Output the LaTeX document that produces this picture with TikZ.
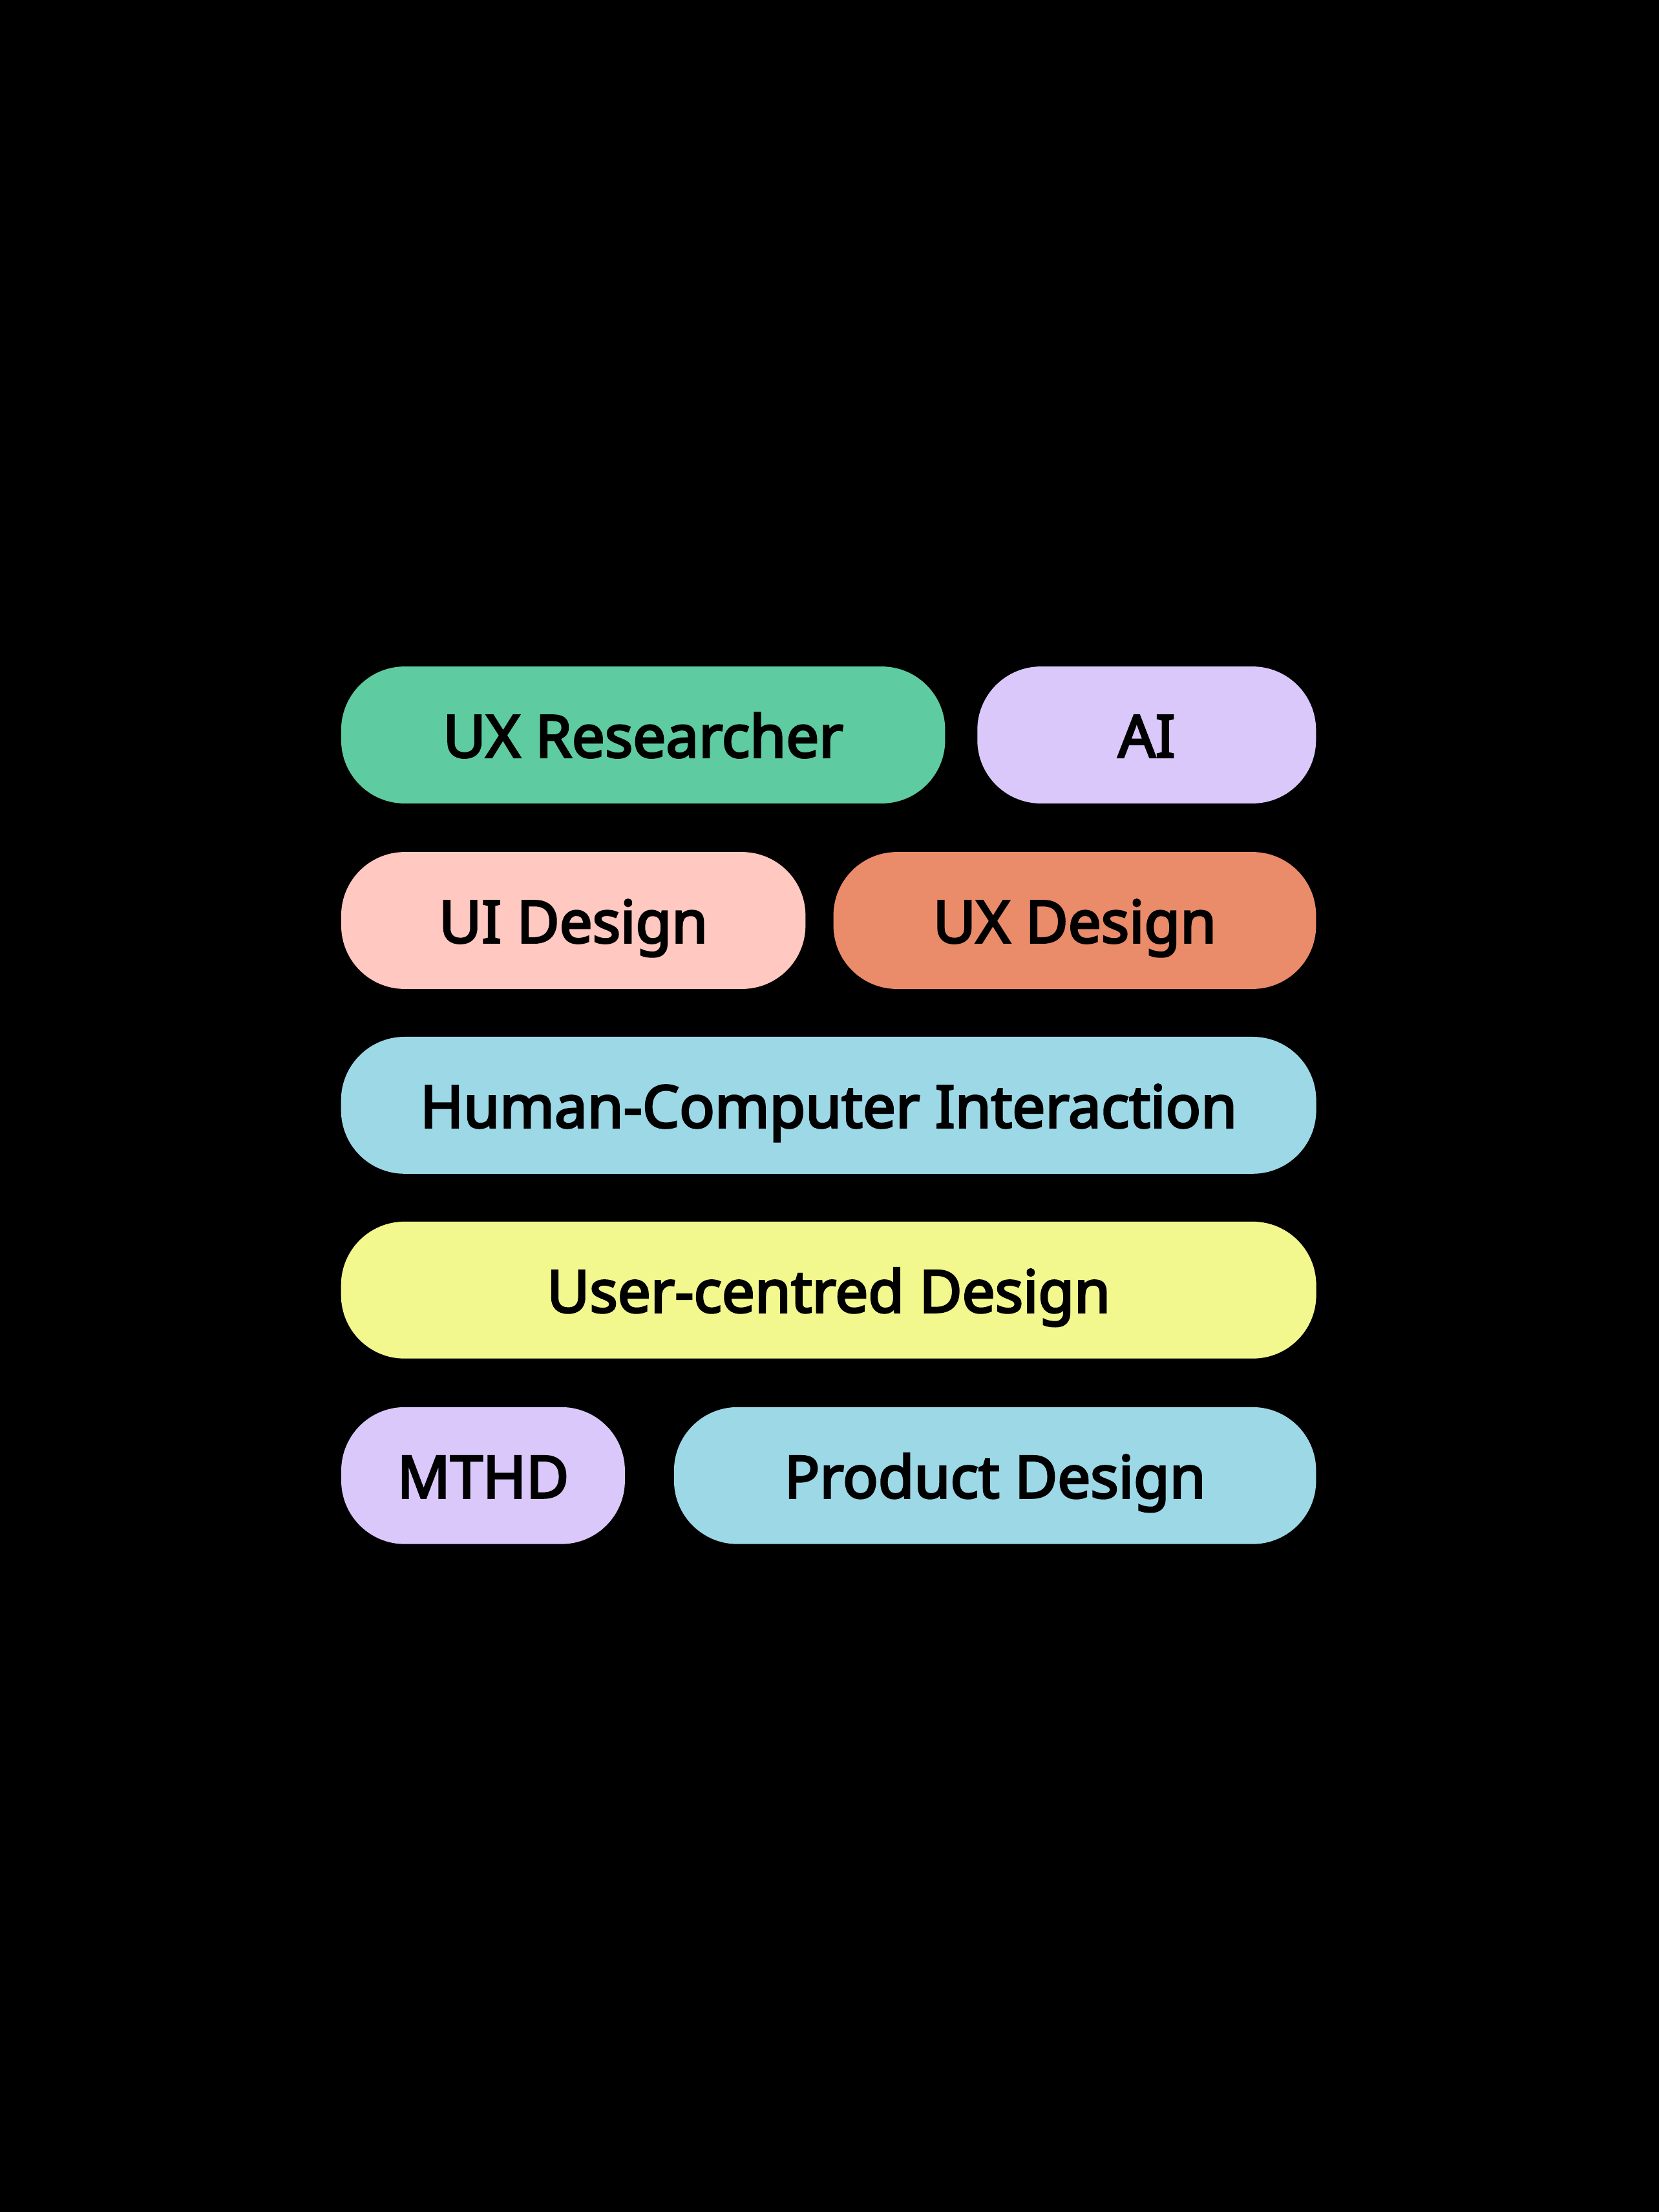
\documentclass[tikz,border=0pt]{standalone}
\usepackage{fontspec}
\setmainfont{Noto Sans}[AutoFakeBold=3.5]
\usepackage{tikz}
\usepackage{xcolor}

\definecolor{tagGreen}{HTML}{5ECCA0}
\definecolor{tagLilac}{HTML}{DAC8FA}
\definecolor{tagPink}{HTML}{FFC8C0}
\definecolor{tagOrange}{HTML}{EA8B6A}
\definecolor{tagBlue}{HTML}{9CD8E6}
\definecolor{tagYellow}{HTML}{F2F78E}

\tikzset{
  tag/.style={rectangle, rounded corners=0.45cm, minimum height=0.97cm,
    inner sep=0pt, text height=0.315cm, text depth=0pt,
    font=\fontsize{11.8}{13}\selectfont\bfseries, text=black}
}

\begin{document}
\begin{tikzpicture}[x=0.01cm, y=0.01cm]

\fill[black] (0,0) rectangle (1176,1568);

\node[tag, fill=tagGreen, minimum width=4.28cm] (uxr) at (456,1047) {UX Researcher};
\node[tag, fill=tagLilac, minimum width=2.40cm] (ai) at (813,1047) {AI};

\node[tag, fill=tagPink, minimum width=3.29cm] (uid) at (406.5,915.5) {UI Design};
\node[tag, fill=tagOrange, minimum width=3.42cm] (uxd) at (762,915.5) {UX Design};

\node[tag, fill=tagBlue, minimum width=6.91cm] (hci) at (587.5,784.5) {Human-Computer Interaction};

\node[tag, fill=tagYellow, minimum width=6.91cm] (ucd) at (587.5,653.5) {User-centred Design};

\node[tag, fill=tagLilac, minimum width=2.01cm] (mthd) at (342.5,522) {MTHD};
\node[tag, fill=tagBlue, minimum width=4.55cm] (pd) at (705.5,522) {Product Design};

\end{tikzpicture}
\end{document}
